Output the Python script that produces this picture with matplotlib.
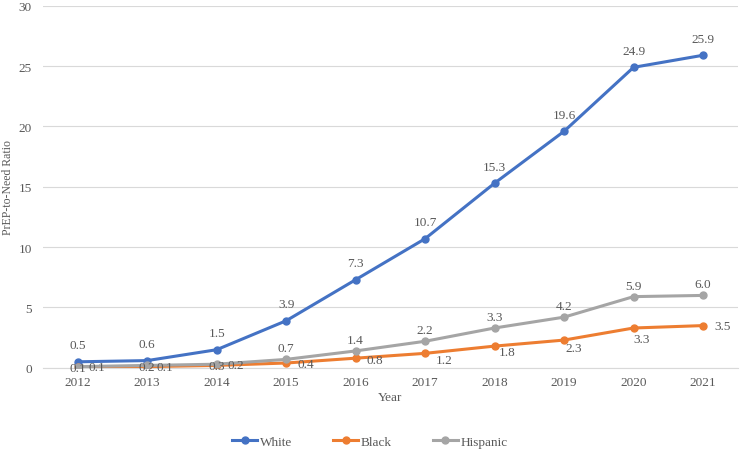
import matplotlib
matplotlib.use("Agg")
import matplotlib.pyplot as plt

years = ["2012", "2013", "2014", "2015", "2016", "2017", "2018", "2019", "2020", "2021"]
white = [0.5, 0.6, 1.5, 3.9, 7.3, 10.7, 15.3, 19.6, 24.9, 25.9]
black = [0.1, 0.1, 0.2, 0.4, 0.8, 1.2, 1.8, 2.3, 3.3, 3.5]
hispanic = [0.1, 0.2, 0.3, 0.7, 1.4, 2.2, 3.3, 4.2, 5.9, 6.0]

# label offsets for the Black series (points), as placed in the original
black_offsets = [(14, 0), (13, 0), (14, 0), (14, -1), (14, -1),
                 (14, -5), (9, -4), (7, -6), (6, -8), (14, 0)]

plt.rcParams["font.family"] = ["Liberation Serif", "DejaVu Serif"]
txt = "#595959"

fig = plt.figure(figsize=(7.4, 4.52), dpi=100)
ax = fig.add_axes([0.058, 0.184, 0.939, 0.801])
x = list(range(len(years)))

ax.plot(x, white, color="#4472C4", lw=2.2, marker="o", ms=5, label="White", zorder=3)
ax.plot(x, black, color="#ED7D31", lw=2.2, marker="o", ms=5, label="Black", zorder=3)
ax.plot(x, hispanic, color="#A5A5A5", lw=2.2, marker="o", ms=5, label="Hispanic", zorder=3)

fs = 9.5
for i, v in enumerate(white):
    ax.annotate(f"{v:.1f}", (i, v), xytext=(0, 12), textcoords="offset points",
                ha="center", va="center", fontsize=fs, color=txt)
for i, v in enumerate(hispanic):
    dy = -1 if i < 3 else 8
    ax.annotate(f"{v:.1f}", (i, v), xytext=(0, dy), textcoords="offset points",
                ha="center", va="center", fontsize=fs, color=txt)
for i, v in enumerate(black):
    ax.annotate(f"{v:.1f}", (i, v), xytext=black_offsets[i], textcoords="offset points",
                ha="center", va="center", fontsize=fs, color=txt)

ax.set_xlim(-0.5, len(years) - 0.5)
ax.set_ylim(0, 30)
ax.set_xticks(x)
ax.set_xticklabels(years)
ax.set_yticks(range(0, 31, 5))
ax.tick_params(axis="both", length=0, labelsize=fs, colors=txt)
ax.tick_params(axis="x", pad=6)
ax.tick_params(axis="y", pad=8)
ax.grid(axis="y", color="#D9D9D9", lw=0.8)
ax.set_axisbelow(True)
for s in ["top", "right", "left"]:
    ax.spines[s].set_visible(False)
ax.spines["bottom"].set_color("#D9D9D9")

ax.set_xlabel("Year", fontsize=fs, color=txt, labelpad=2)
ax.set_ylabel("PrEP-to-Need Ratio", fontsize=8.5, color=txt, labelpad=3)

fig.legend(loc="center", bbox_to_anchor=(0.5, 0.02), ncol=3, frameon=False,
           fontsize=fs, labelcolor=txt, handlelength=1.9, columnspacing=3.1,
           handletextpad=0.2)

fig.savefig("out.png", dpi=100)
